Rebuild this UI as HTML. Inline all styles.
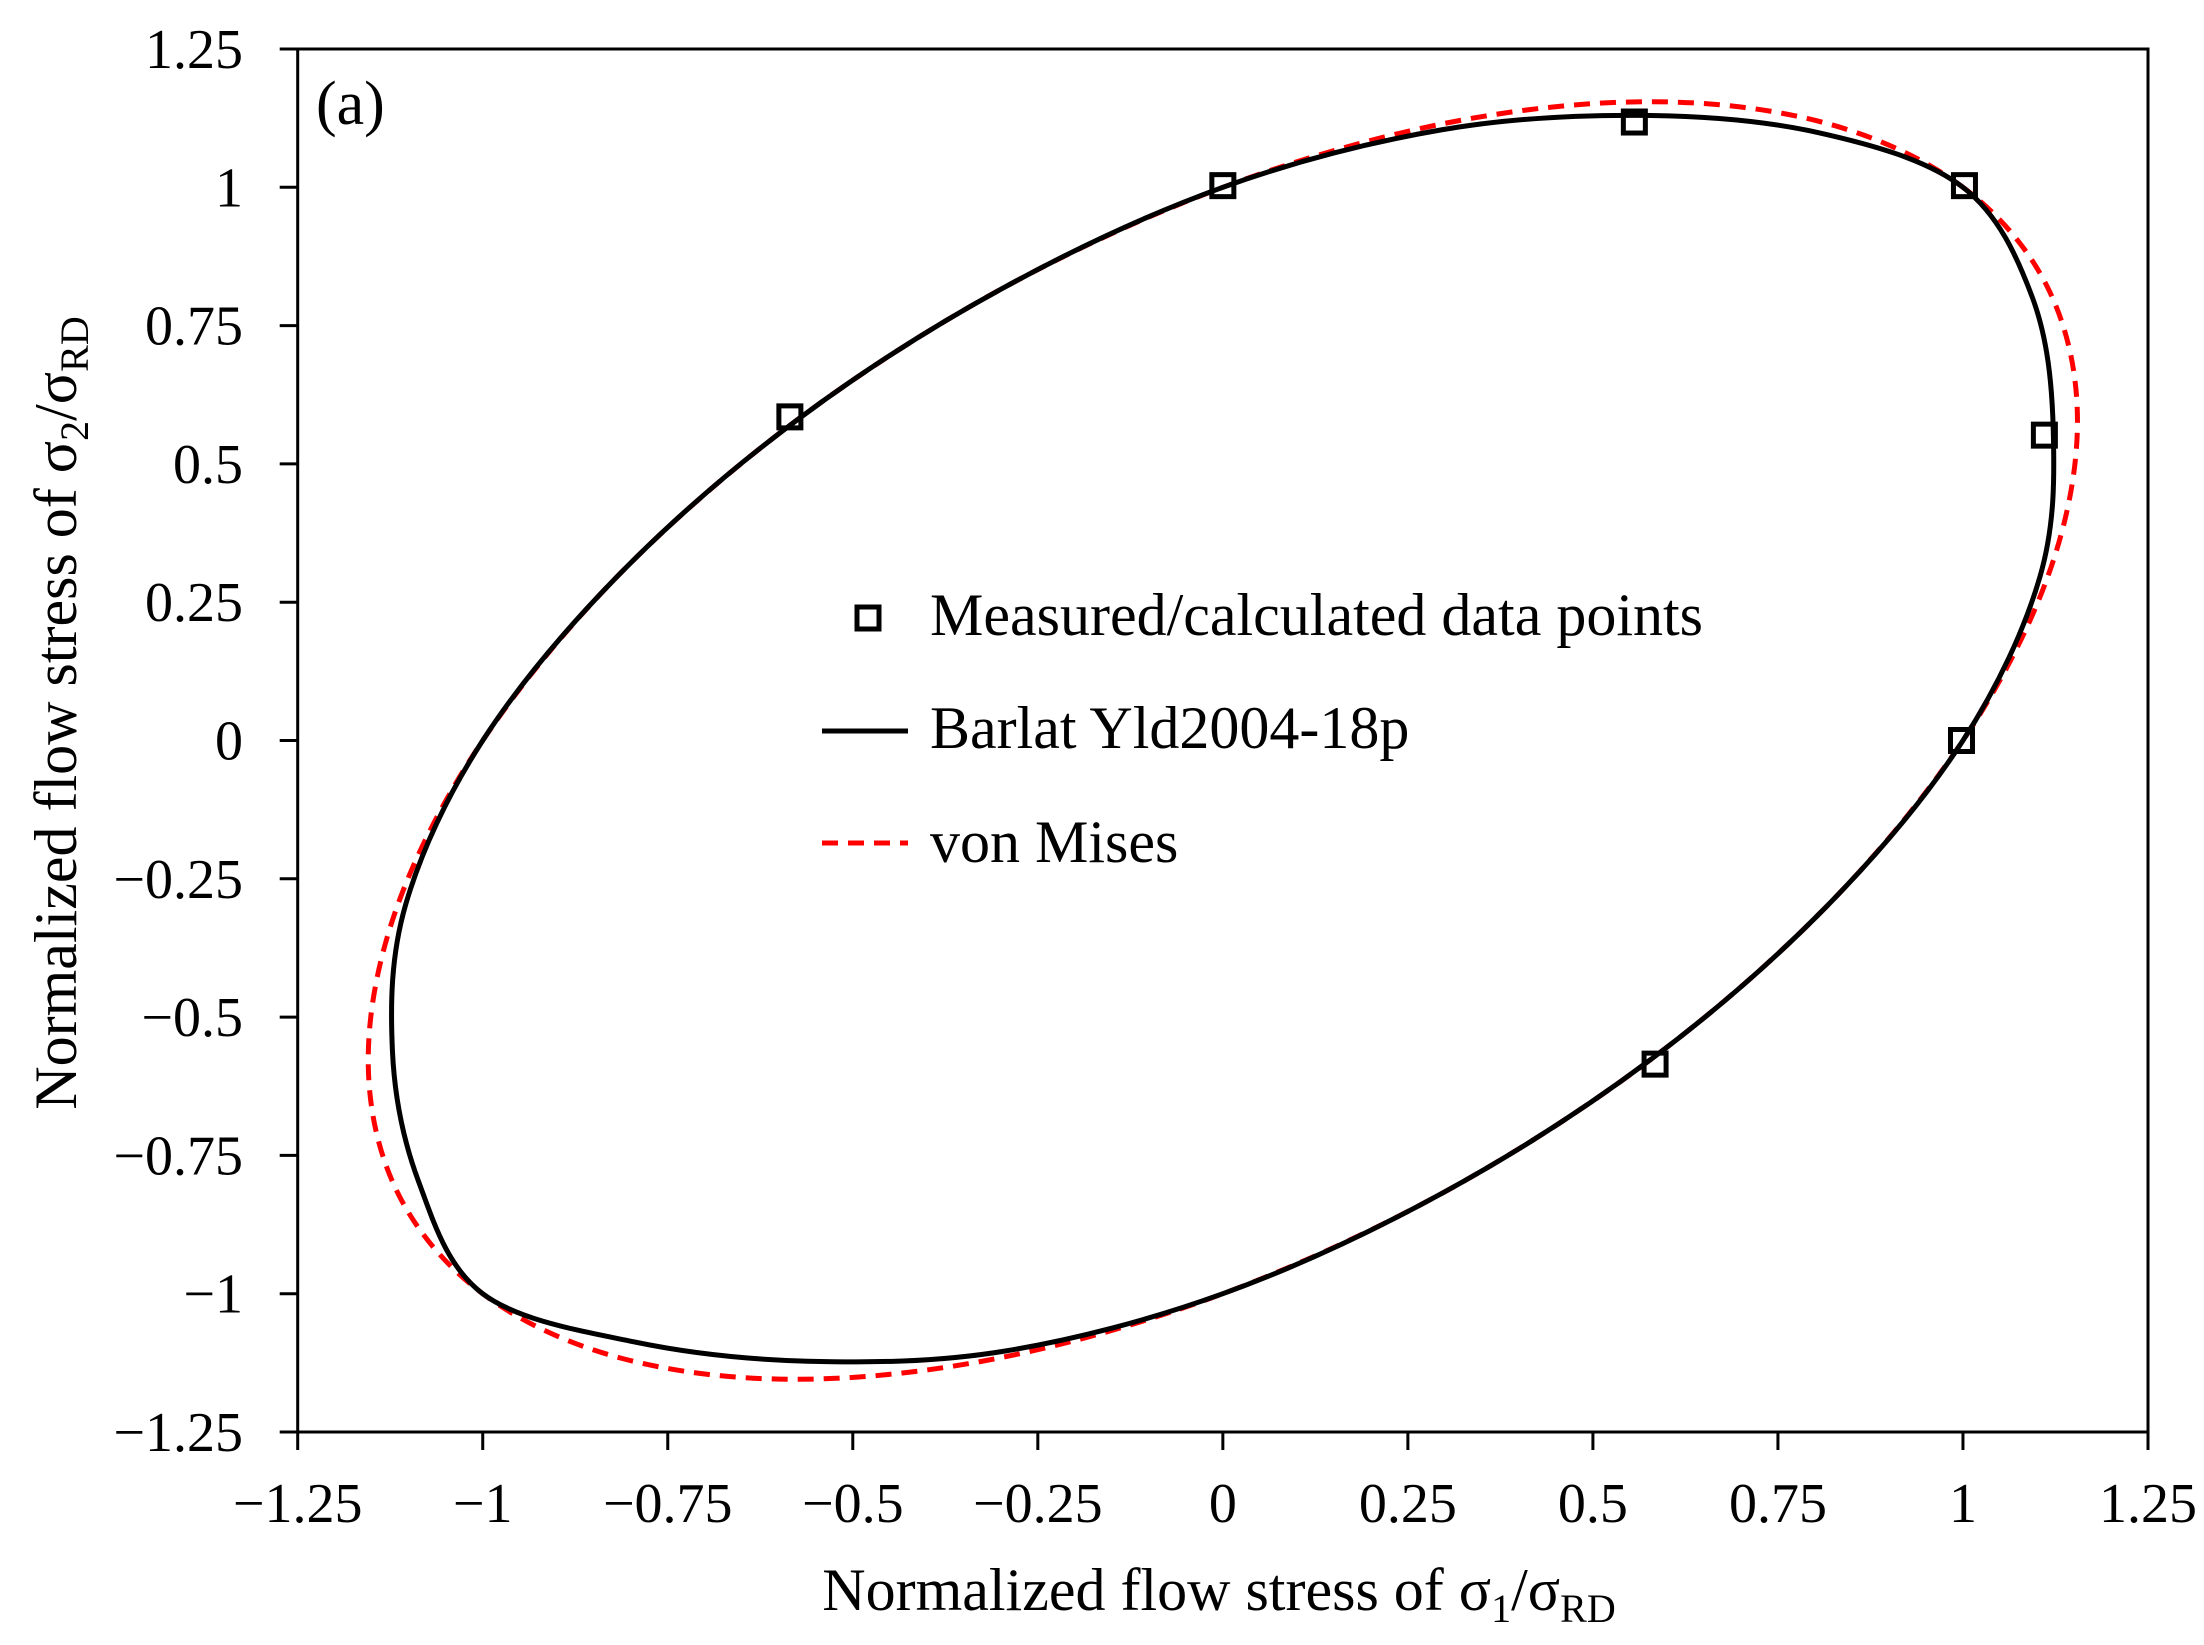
<!DOCTYPE html>
<html><head><meta charset="utf-8"><style>
html,body{margin:0;padding:0;background:#fff;}
svg{display:block;font-family:"Liberation Serif",serif;}
</style></head><body>
<svg id="chart" width="2204" height="1645" viewBox="0 0 2204 1645" xmlns="http://www.w3.org/2000/svg">
<rect x="0" y="0" width="2204" height="1645" fill="#fff"/>
<g id="axes"></g>
<g id="series"></g>
<text x="316" y="124" font-size="62">(a)</text>
<g>
  <rect x="857" y="607" width="22" height="22" fill="none" stroke="#000" stroke-width="5"/>
  <text x="930" y="635" font-size="60">Measured/calculated data points</text>
  <line x1="822" y1="731" x2="908" y2="731" stroke="#000" stroke-width="5"/>
  <text x="930" y="748" font-size="60">Barlat Yld2004-18p</text>
  <line x1="822" y1="843" x2="908" y2="843" stroke="#ff0000" stroke-width="5" stroke-dasharray="16,10"/>
  <text x="930" y="862" font-size="60">von Mises</text>
</g>
<text x="1219" y="1610" font-size="60" text-anchor="middle">Normalized flow stress of σ<tspan font-size="40" dy="12">1</tspan><tspan dy="-12">/σ</tspan><tspan font-size="40" dy="12">RD</tspan></text>
<text transform="translate(76,713) rotate(-90)" font-size="60" text-anchor="middle">Normalized flow stress of σ<tspan font-size="40" dy="12">2</tspan><tspan dy="-12">/σ</tspan><tspan font-size="40" dy="12">RD</tspan></text>
</svg>
<script>
const xTicks = [-1.25,-1,-0.75,-0.5,-0.25,0,0.25,0.5,0.75,1,1.25];
const yTicks = [-1.25,-1,-0.75,-0.5,-0.25,0,0.25,0.5,0.75,1,1.25];
const vmX = [1,0.8165,0.5774,0.2989,0,-0.2989,-0.5774,-0.8165,-1,-1.1153,-1.1547,-1.1153,-1,-0.8165,-0.5774,-0.2989,0,0.2989,0.5774,0.8165,1,1.1153,1.1547,1.1153];
const vmY = [1,1.1153,1.1547,1.1153,1,0.8165,0.5774,0.2989,0,-0.2989,-0.5774,-0.8165,-1,-1.1153,-1.1547,-1.1153,-1,-0.8165,-0.5774,-0.2989,0,0.2989,0.5774,0.8165];
const blX = [1,0.804,0.565,0.296,0,-0.2989,-0.5774,-0.8165,-1,-1.104,-1.122,-1.087,-1,-0.796,-0.561,-0.296,0,0.2989,0.5774,0.8165,1,1.104,1.122,1.094];
const blY = [1,1.099,1.130,1.104,1,0.8165,0.5774,0.2989,0,-0.296,-0.561,-0.796,-1,-1.087,-1.122,-1.104,-1,-0.8165,-0.5774,-0.2989,0,0.296,0.561,0.800];
const ptX = [-0.585,0,0.556,1.002,1.11,0.998,0.584];
const ptY = [0.585,1.003,1.118,1.003,0.552,0.0,-0.585];

const L=297.7,R=2148,T=49,B=1432;
const sx=v=>L+(v+1.25)/2.5*(R-L);
const sy=v=>B-(v+1.25)/2.5*(B-T);
const NS="http://www.w3.org/2000/svg";
const axes=document.getElementById('axes'), series=document.getElementById('series');
function mk(tag,attrs,parent){const e=document.createElementNS(NS,tag);for(const k in attrs)e.setAttribute(k,attrs[k]);parent.appendChild(e);return e;}
const fmt=v=>(v<0?'\u2212':'')+String(Math.abs(v));

const frame=mk('rect',{x:L,y:T,width:R-L,height:B-T,fill:'none',stroke:'#000','stroke-width':3},axes);


xTicks.forEach(v=>{
  const t=mk('line',{x1:sx(v),x2:sx(v),y1:B,y2:B+18,stroke:'#000','stroke-width':3},axes);
  
  
  const l=mk('text',{x:sx(v),y:1522,'font-size':56,'text-anchor':'middle'},axes);
  l.textContent=fmt(v);
  
  
});
yTicks.forEach(v=>{
  const t=mk('line',{x1:L-18,x2:L,y1:sy(v),y2:sy(v),stroke:'#000','stroke-width':3},axes);
  
  
  const l=mk('text',{x:243,y:sy(v)+19,'font-size':56,'text-anchor':'end'},axes);
  l.textContent=fmt(v);
  
  
});
function closedPath(xs,ys){
  const n=xs.length,P=xs.map((x,i)=>[sx(x),sy(ys[i])]);
  let d='M'+P[0][0]+','+P[0][1];
  for(let i=0;i<n;i++){
    const p0=P[(i-1+n)%n],p1=P[i],p2=P[(i+1)%n],p3=P[(i+2)%n];
    const c1=[p1[0]+(p2[0]-p0[0])/6,p1[1]+(p2[1]-p0[1])/6];
    const c2=[p2[0]-(p3[0]-p1[0])/6,p2[1]-(p3[1]-p1[1])/6];
    d+=' C'+c1+' '+c2+' '+p2;
  }
  return d+'Z';
}
const vm=mk('path',{d:closedPath(vmX,vmY),fill:'none',stroke:'#ff0000','stroke-width':5,'stroke-dasharray':'16,10'},series);


const bl=mk('path',{d:closedPath(blX,blY),fill:'none',stroke:'#000','stroke-width':5},series);


ptX.forEach((x,i)=>{
  const r=mk('rect',{x:sx(x)-11,y:sy(ptY[i])-11,width:22,height:22,fill:'none',stroke:'#000','stroke-width':5},series);
  
  
});
</script>
</body></html>
